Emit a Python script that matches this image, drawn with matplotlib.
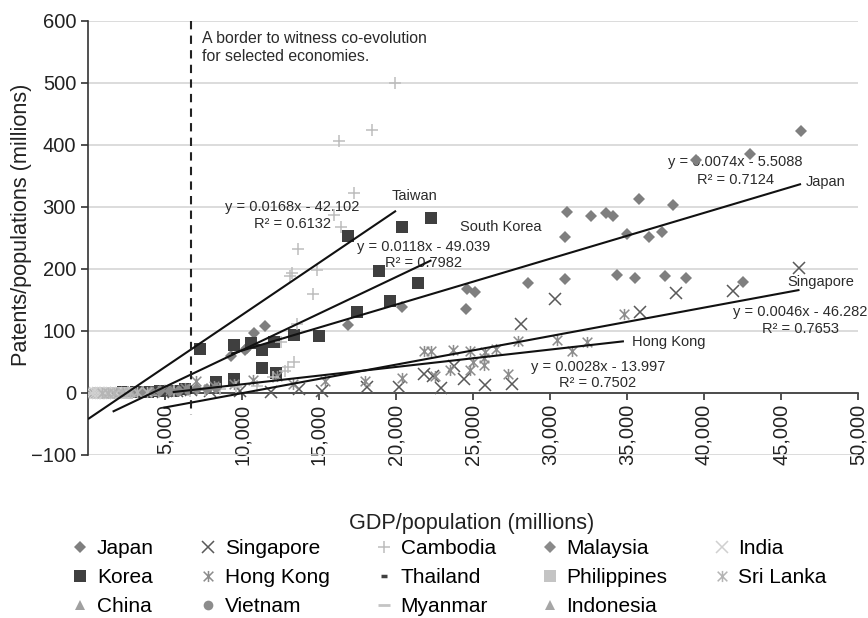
import matplotlib.pyplot as plt
from matplotlib.path import Path
from matplotlib.ticker import FuncFormatter

plt.rcParams["font.family"] = ["Liberation Sans", "DejaVu Sans"]

# GDP per population (x) and patents per population (y), by economy
japan_gdp = [9300, 10200, 10300, 10800, 11500, 16900, 20400, 24550, 24600, 25150, 28550, 31000, 31000, 31100,
             32650, 33650, 34100, 34350, 35000, 35500, 35800, 36450, 37300, 37450, 38000, 38800, 39500, 42500,
             43000, 46300]
japan_pat = [59, 69, 72, 96, 108, 110, 139, 135, 168, 163, 177, 184, 251, 292,
             286, 291, 285, 190, 256, 185, 313, 251, 259, 189, 303, 186, 376, 179,
             385, 423]

korea_gdp = [1600, 2300, 3100, 3900, 4700, 5500, 6300, 7300, 8300, 9500, 9500, 10600, 11300, 11300, 12100,
             12200, 13400, 15000, 16900, 17450, 18900, 19600, 20400, 21450, 22300]
korea_pat = [0, 1, 1, 2, 3, 4, 6, 71, 18, 22, 77, 81, 69, 41, 82,
             33, 94, 92, 253, 131, 196, 149, 267, 178, 283]

china_gdp = [500, 800, 1100, 1500, 1900, 2400, 2900, 3500, 4200, 5000]
china_pat = [0, 0, 0, 0, 1, 1, 2, 3, 4, 6]

singapore_gdp = [4900, 5800, 6700, 7900, 9900, 11900, 13700, 15200, 18100, 20200, 21800, 22400, 22950, 23750,
                 24400, 25800, 27550, 28100, 30300, 35850, 38200, 41900, 46200]
singapore_pat = [2, 3, 5, 4, 4, 2, 6, 4, 9, 10, 30, 27, 8, 44,
                 22, 13, 15, 112, 152, 130, 162, 165, 201]

hongkong_gdp = [5500, 6300, 7000, 8200, 9500, 10700, 12300, 13300, 15400, 18000, 20400, 21800, 22300, 22500,
                23500, 23700, 24800, 24800, 25000, 25700, 25800, 25700, 26500, 27300, 27950, 30450, 31450,
                32400, 34800]
hongkong_pat = [3, 8, 20, 12, 15, 21, 28, 15, 20, 20, 24, 67, 68, 28,
                37, 69, 67, 37, 50, 45, 66, 56, 71, 31, 84, 85, 68,
                83, 128]

vietnam_gdp = [200, 400, 600, 800, 1000, 1300, 1600, 2000]
vietnam_pat = [0, 0, 0, 0, 0, 0, 0, 0]

cambodia_gdp = [300, 900, 1700, 2600, 3600, 4600, 5600, 6600, 7600, 8600, 9600, 11000, 12000, 12550, 12800,
                13000, 13100, 13250, 13400, 13550, 13650, 14630, 14900, 15950, 16450, 17300, 16300, 18450, 19950]
cambodia_pat = [0, 0, 0, 1, 1, 2, 3, 4, 5, 7, 9, 12, 26, 82, 35,
                42, 189, 193, 50, 112, 232, 159, 199, 287, 267, 322, 407, 425, 500]

thailand_gdp = [2600, 3100, 3700, 4300, 4900, 5500, 6100]
thailand_pat = [1, 1, 1, 2, 2, 3, 3]

myanmar_gdp = [100, 250, 400, 550, 700, 900]
myanmar_pat = [0, 0, 0, 0, 0, 0]

malaysia_gdp = [3000, 3500, 4100, 4700, 5300, 5900, 6500, 7100, 7700, 8300]
malaysia_pat = [1, 1, 2, 3, 3, 4, 5, 6, 6, 8]

philippines_gdp = [700, 1000, 1300, 1600, 1900, 2200, 2500]
philippines_pat = [0, 0, 0, 0, 0, 0, 0]

indonesia_gdp = [600, 900, 1200, 1500, 1900, 2300, 2800]
indonesia_pat = [0, 0, 0, 0, 1, 1, 1]

india_gdp = [250, 450, 650, 850, 1100, 1400, 1800]
india_pat = [0, 0, 0, 0, 0, 0, 0]

srilanka_gdp = [900, 1300, 1700, 2200, 2700, 3200, 3800]
srilanka_pat = [0, 0, 0, 1, 1, 1, 2]

# linear trend lines: y = slope * x + intercept over [start, end]
trend_names = ["Taiwan", "South Korea", "Japan", "Singapore", "Hong Kong"]
trend_slope = [0.0168, 0.0118, 0.0074, 0.0046, 0.0028]
trend_icpt = [-42.102, -49.039, -5.5088, -46.282, -13.997]
trend_r2 = [0.6132, 0.7982, 0.7124, 0.7653, 0.7502]
trend_start = [0, 1600, 9300, 4900, 5500]
trend_end = [20000, 22300, 46300, 46200, 34800]

border_gdp = 6700

# x with a vertical bar, like the spreadsheet "star" marker
STAR = Path([(-1, -1), (1, 1), (-1, 1), (1, -1), (0, -1.15), (0, 1.15)],
            [Path.MOVETO, Path.LINETO, Path.MOVETO, Path.LINETO, Path.MOVETO, Path.LINETO])


def series_list():
    # name, x, y, marker, size, face, edge width
    return [
        ("Japan", japan_gdp, japan_pat, "D", 6.2, "#7f7f7f", 0),
        ("Korea", korea_gdp, korea_pat, "s", 9.0, "#3f3f3f", 0),
        ("China", china_gdp, china_pat, "^", 6.5, "#a0a0a0", 0),
        ("Singapore", singapore_gdp, singapore_pat, "x", 8.0, "#595959", 1.1),
        ("Hong Kong", hongkong_gdp, hongkong_pat, STAR, 8.0, "#8c8c8c", 1.1),
        ("Vietnam", vietnam_gdp, vietnam_pat, "o", 7.0, "#8c8c8c", 0),
        ("Cambodia", cambodia_gdp, cambodia_pat, "+", 8.5, "#bdbdbd", 1.1),
        ("Thailand", thailand_gdp, thailand_pat, "_", 5.0, "#404040", 2.5),
        ("Myanmar", myanmar_gdp, myanmar_pat, "_", 8.0, "#c4c4c4", 2.0),
        ("Malaysia", malaysia_gdp, malaysia_pat, "D", 6.2, "#8a8a8a", 0),
        ("Philippines", philippines_gdp, philippines_pat, "s", 8.0, "#c4c4c4", 0),
        ("Indonesia", indonesia_gdp, indonesia_pat, "^", 6.5, "#a6a6a6", 0),
        ("India", india_gdp, india_pat, "x", 8.0, "#d0d0d0", 1.1),
        ("Sri Lanka", srilanka_gdp, srilanka_pat, STAR, 8.0, "#b5b5b5", 1.1),
    ]


def main():
    fig = plt.figure(figsize=(8.68, 6.18), dpi=100)
    ax = fig.add_axes([88 / 868, 1 - 455 / 618, 770 / 868, 434 / 618])

    handles = []
    for name, xs, ys, mk, size, col, mew in series_list():
        if mew:
            h, = ax.plot(xs, ys, linestyle="none", marker=mk, ms=size, color=col,
                         mew=mew, zorder=3, label=name)
        else:
            h, = ax.plot(xs, ys, linestyle="none", marker=mk, ms=size, color=col,
                         mec=col, mew=0, zorder=3, label=name)
        handles.append(h)

    for a, b, x0, x1 in zip(trend_slope, trend_icpt, trend_start, trend_end):
        ax.plot([x0, x1], [a * x0 + b, a * x1 + b], color="#111111", lw=1.5,
                solid_capstyle="butt", zorder=4)

    ax.plot([border_gdp, border_gdp], [600, -35], color="#222222", lw=1.5,
            linestyle=(0, (4, 3)), zorder=4)

    txt = dict(fontsize=10.5, color="#2b2b2b", zorder=2)
    ax.text(7400, 572, "A border to witness co-evolution", ha="left", va="center",
            fontsize=11.4, color="#2b2b2b", zorder=2)
    ax.text(7400, 542, "for selected economies.", ha="left", va="center",
            fontsize=11.4, color="#2b2b2b", zorder=2)

    # equation / R² labels (centre x, eq y, r2 y) and name labels (left x, y)
    eq_pos = [(13260, 300, 273), (21800, 236, 209), (42020, 373, 344),
              (46240, 131, 103), (33120, 42, 16)]
    name_pos = [(19740, 318), (24160, 268), (46630, 341), (45390, 179), (35330, 83)]
    for i, name in enumerate(trend_names):
        cx, ey, ry = eq_pos[i]
        sign = "-" if trend_icpt[i] < 0 else "+"
        ax.text(cx, ey, f"y = {trend_slope[i]:g}x {sign} {abs(trend_icpt[i]):g}",
                ha="center", va="center", **txt)
        ax.text(cx, ry, f"R² = {trend_r2[i]:.4f}", ha="center", va="center", **txt)
        nx, ny = name_pos[i]
        ax.text(nx, ny, name, ha="left", va="center", **txt)

    ax.set_xlim(0, 50000)
    ax.set_ylim(-100, 600)
    ax.set_yticks(range(-100, 601, 100))
    ax.set_xticks(range(5000, 50001, 5000))
    ax.xaxis.set_major_formatter(FuncFormatter(lambda v, p: f"{int(v):,}"))
    ax.yaxis.grid(True, color="#d6d6d6", lw=1.2, zorder=0)
    ax.set_axisbelow(True)

    for side in ("top", "right"):
        ax.spines[side].set_visible(False)
    ax.spines["bottom"].set_position(("data", 0))
    ax.spines["left"].set_color("#333333")
    ax.spines["bottom"].set_color("#333333")
    ax.spines["left"].set_linewidth(1.2)
    ax.spines["bottom"].set_linewidth(1.2)
    ax.tick_params(axis="both", direction="out", length=5, width=1.2, color="#333333",
                   labelsize=14.5, labelcolor="#222222")
    ax.tick_params(axis="x", labelrotation=90, pad=3)

    fig.text(22 / 868, 1 - 225 / 618, "Patents/populations (millions)", rotation=90,
             ha="center", va="center", fontsize=15.6, color="#222222")
    fig.text(472 / 868, 1 - 523 / 618, "GDP/population (millions)",
             ha="center", va="center", fontsize=15.6, color="#222222")

    fig.legend(handles=handles, ncol=5, loc="upper left", bbox_to_anchor=(72 / 868, 1 - 539 / 618),
               frameon=False, fontsize=15, handlelength=0.8, handletextpad=0.4,
               columnspacing=2.2, labelspacing=0.48, borderaxespad=0, borderpad=0)

    fig.savefig("out.png", dpi=100)
    plt.close(fig)


if __name__ == "__main__":
    main()
